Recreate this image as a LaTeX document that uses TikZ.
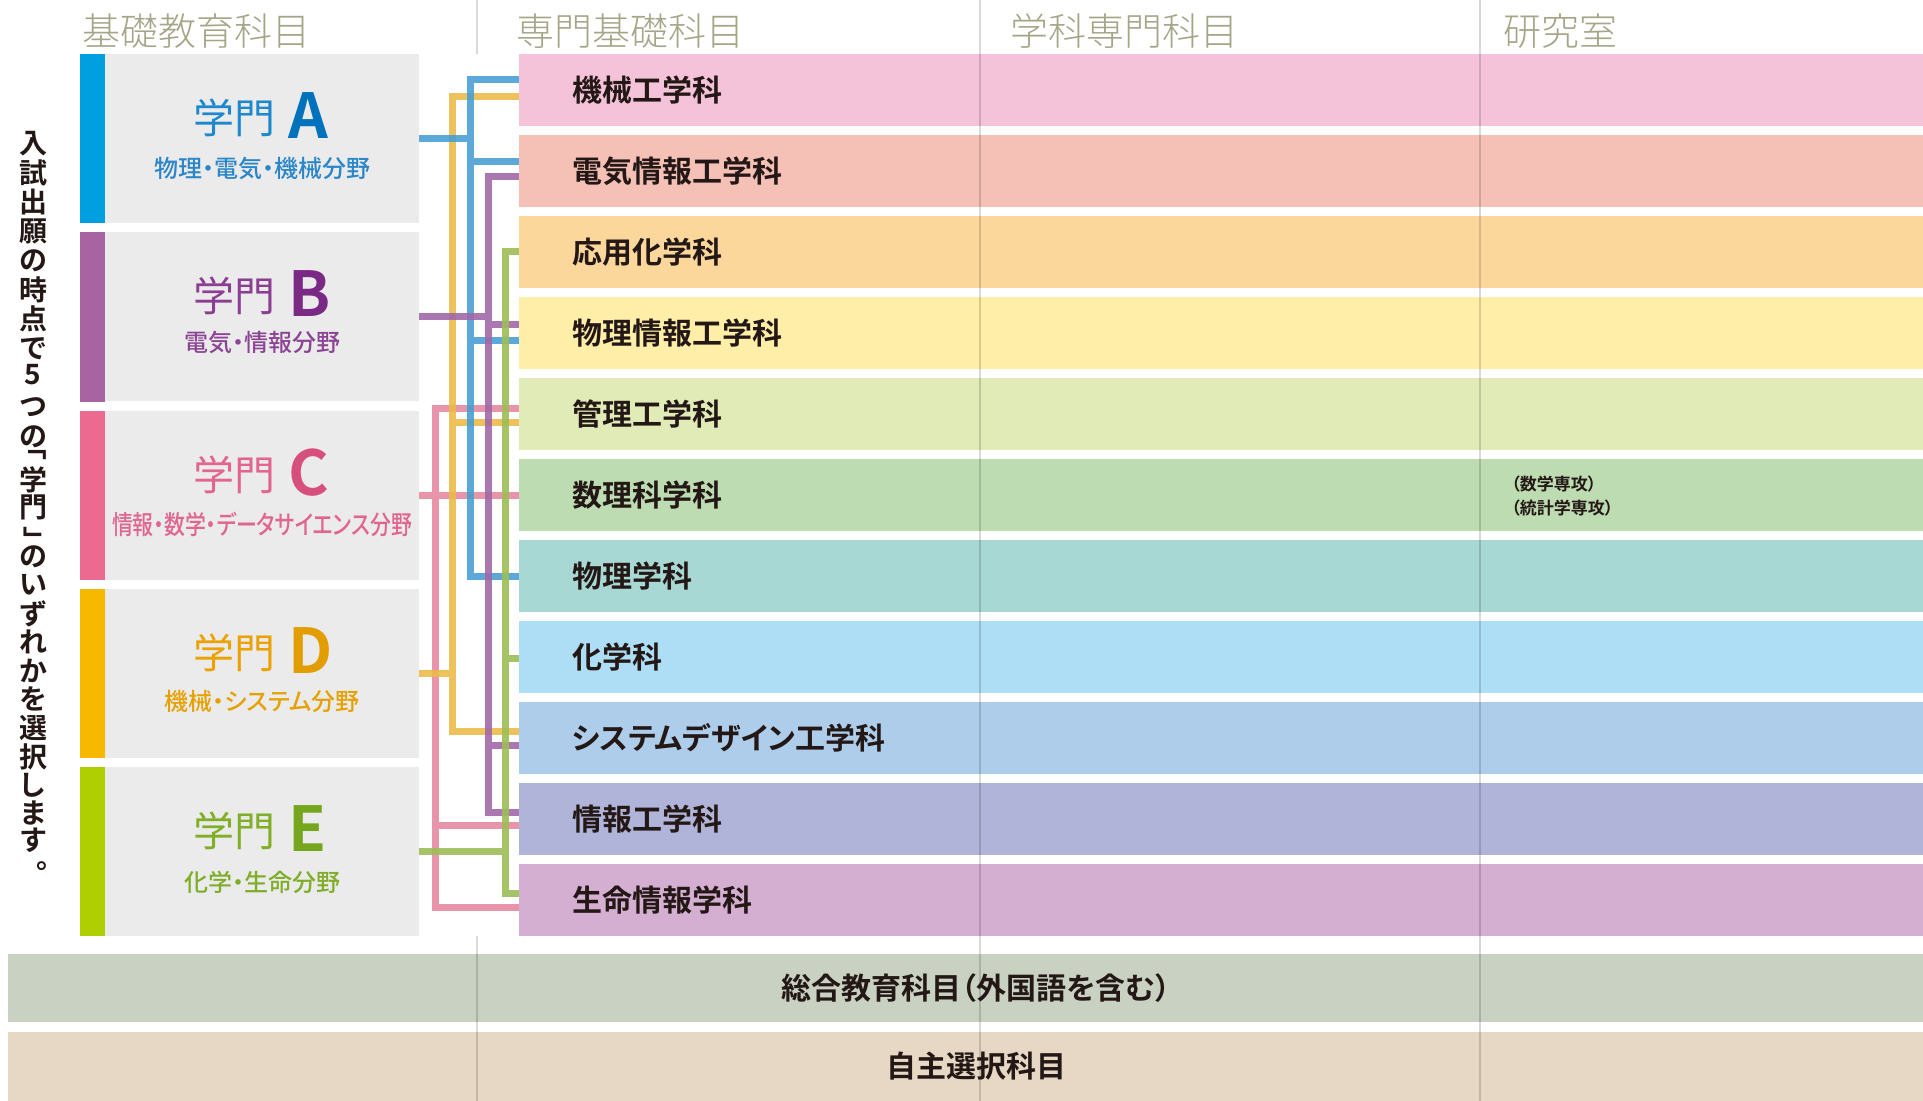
\documentclass[tikz,border=0pt]{standalone}
\usepackage{fontspec}
\setmainfont{Noto Sans CJK JP}[BoldFont={Noto Sans CJK JP Bold},RawFeature=+palt]
\newfontfamily\jplight{Noto Sans CJK JP Light}[RawFeature=+palt]
\newfontfamily\jpmed{Noto Sans CJK JP Medium}[RawFeature=+palt]
\definecolor{ink}{HTML}{231815}
\definecolor{headc}{HTML}{A5A588}
\definecolor{gboxc}{HTML}{EBEBEB}
% gakumon colours
\definecolor{sA}{HTML}{00A0E0}\definecolor{tA}{HTML}{1E88CF}\definecolor{lA}{HTML}{0072BC}\definecolor{uA}{HTML}{2A86C8}
\definecolor{sB}{HTML}{A864A2}\definecolor{tB}{HTML}{8B3E92}\definecolor{lB}{HTML}{7A2A84}\definecolor{uB}{HTML}{8C4494}
\definecolor{sC}{HTML}{EC6A90}\definecolor{tC}{HTML}{E26590}\definecolor{lC}{HTML}{D7507D}\definecolor{uC}{HTML}{E0658F}
\definecolor{sD}{HTML}{F7B800}\definecolor{tD}{HTML}{EBA100}\definecolor{lD}{HTML}{E29E00}\definecolor{uD}{HTML}{E6A100}
\definecolor{sE}{HTML}{AFCF00}\definecolor{tE}{HTML}{80AF27}\definecolor{lE}{HTML}{76A61E}\definecolor{uE}{HTML}{7FAD28}
% bar colours
\definecolor{c1}{HTML}{F4C3D9}\definecolor{c2}{HTML}{F5C0B5}\definecolor{c3}{HTML}{FBD79C}
\definecolor{c4}{HTML}{FEEEA8}\definecolor{c5}{HTML}{E0EBB8}\definecolor{c6}{HTML}{BDDCB2}
\definecolor{c7}{HTML}{A8D8D3}\definecolor{c8}{HTML}{ADDEF5}\definecolor{c9}{HTML}{ADCDEB}
\definecolor{c10}{HTML}{AFB4D8}\definecolor{c11}{HTML}{D4AFD1}\definecolor{c12}{HTML}{C9D1C2}
\definecolor{c13}{HTML}{E6D8C5}
% connector colours
\definecolor{kA}{HTML}{4A9FD4}\definecolor{kB}{HTML}{A168A8}\definecolor{kC}{HTML}{E688A2}
\definecolor{kD}{HTML}{EBBA4A}\definecolor{kE}{HTML}{9DBD56}
\newcommand\gtitle[3]{\textcolor{#1}{\fontsize{20.5}{24}\selectfont\raisebox{2.5pt}{学門}}\hspace{6.5pt}\textcolor{#2}{\bfseries\fontsize{31}{36}\selectfont #3}}
\begin{document}
\begin{tikzpicture}[x=0.5pt,y=-0.5pt,
  gbox/.style={fill=gboxc, minimum width=169.5pt, minimum height=84.5pt, inner sep=0},
  bar/.style={minimum width=702pt, minimum height=36pt, inner sep=0},
  blabel/.style={anchor=west, inner sep=0, font=\bfseries\fontsize{15}{18}\selectfont, text=ink},
  head/.style={anchor=west, inner sep=0, font=\jplight\fontsize{19}{22}\selectfont, text=headc},
  gtit/.style={anchor=base west, inner sep=0},
  gsub/.style={inner sep=0, font=\jpmed\fontsize{12}{14}\selectfont},
  vch/.style={inner sep=0, font=\bfseries\fontsize{14}{16}\selectfont, text=ink},
  ln/.style={line width=3.5pt, opacity=0.9},
  sepl/.style={draw=black, opacity=0.15, line width=1pt}]
\useasboundingbox (0,0) rectangle (1923,1101);

% headers
\node[head] (h1) at (82,31.5) {基礎教育科目};
\node[head] (h2) at (516,31.5) {専門基礎科目};
\node[head] (h3) at (1010,31.5) {学科専門科目};
\node[head] (h4) at (1503,31.5) {研究室};

% gakumon boxes
\node[gbox] (gA) at (249.5,138.5) {};
\node[gbox] (gB) at (249.5,317) {};
\node[gbox] (gC) at (249.5,495.5) {};
\node[gbox] (gD) at (249.5,673.5) {};
\node[gbox] (gE) at (249.5,851.5) {};
\fill[sA] (gA.north west) rectangle ([xshift=12.5pt]gA.south west);
\fill[sB] (gB.north west) rectangle ([xshift=12.5pt]gB.south west);
\fill[sC] (gC.north west) rectangle ([xshift=12.5pt]gC.south west);
\fill[sD] (gD.north west) rectangle ([xshift=12.5pt]gD.south west);
\fill[sE] (gE.north west) rectangle ([xshift=12.5pt]gE.south west);
\node[gtit] (tA) at (193,139) {\gtitle{tA}{lA}{A}};
\node[gtit] (tB) at (193,317) {\gtitle{tB}{lB}{B}};
\node[gtit] (tC) at (193,496) {\gtitle{tC}{lC}{C}};
\node[gtit] (tD) at (193,673.5) {\gtitle{tD}{lD}{D}};
\node[gtit] (tE) at (193,851.5) {\gtitle{tE}{lE}{E}};
\node[gsub, text=uA] (uA) at (262,168.5) {物理・電気・機械分野};
\node[gsub, text=uB] (uB) at (262,342) {電気・情報分野};
\node[gsub, text=uC] (uC) at (262,524) {\resizebox{150pt}{11.2pt}{情報・数学・データサイエンス分野}};
\node[gsub, text=uD] (uD) at (262,701) {機械・システム分野};
\node[gsub, text=uE] (uE) at (262,882) {化学・生命分野};

% department bars
\node[bar, fill=c1] (b1) at (1221,90) {};
\node[bar, fill=c2] (b2) at (1221,171) {};
\node[bar, fill=c3] (b3) at (1221,252) {};
\node[bar, fill=c4] (b4) at (1221,333) {};
\node[bar, fill=c5] (b5) at (1221,414) {};
\node[bar, fill=c6] (b6) at (1221,495) {};
\node[bar, fill=c7] (b7) at (1221,576) {};
\node[bar, fill=c8] (b8) at (1221,657) {};
\node[bar, fill=c9] (b9) at (1221,738) {};
\node[bar, fill=c10] (b10) at (1221,819) {};
\node[bar, fill=c11] (b11) at (1221,900) {};
\node[fill=c12, minimum width=957.5pt, minimum height=34pt, inner sep=0] (b12) at (965.5,988) {};
\node[fill=c13, minimum width=957.5pt, minimum height=34.5pt, inner sep=0] (b13) at (965.5,1066.5) {};

% column separators
\draw[sepl] (477,0) -- (477,54);
\draw[sepl] (477,936) -- (477,1101);
\draw[sepl] (980,0) -- (980,1101);
\draw[sepl] (1480,0) -- (1480,1101);

% labels
\node[blabel] (l1) at (572,90) {機械工学科};
\node[blabel] (l2) at (572,171) {電気情報工学科};
\node[blabel] (l3) at (572,252) {応用化学科};
\node[blabel] (l4) at (572,333) {物理情報工学科};
\node[blabel] (l5) at (572,414) {管理工学科};
\node[blabel] (l6) at (572,495) {数理科学科};
\node[blabel] (l7) at (572,576) {物理学科};
\node[blabel] (l8) at (572,657) {化学科};
\node[blabel] (l9) at (572,738) {システムデザイン工学科};
\node[blabel] (l10) at (572,819) {情報工学科};
\node[blabel] (l11) at (572,900) {生命情報学科};
\node[anchor=west, inner sep=0, align=left, font=\bfseries\fontsize{8.5}{12.25}\selectfont, text=ink] (l6s) at (1511,496) {（数学専攻）\\（統計学専攻）};
\node[inner sep=0, font=\bfseries\fontsize{15}{18}\selectfont, text=ink] (l12) at (976,988) {総合教育科目（外国語を含む）};
\node[inner sep=0, font=\bfseries\fontsize{15}{18}\selectfont, text=ink] (l13) at (976,1066) {自主選択科目};

% vertical caption, one character per cell
\foreach \ch/\yy [count=\i] in {入/143.5,試/172.8,出/202.1,願/231.4,の/260.7,時/290,点/319.3,で/348.6,5/375,つ/407.2,の/436.5,
  学/479.5,門/507.5,の/556.5,い/585,ず/613.6,れ/642.2,か/670.7,を/699.3,選/727.8,択/756.4,し/785,ま/813.5,す/840.5}
  \node[vch, name=v\i] at (33,\yy) {\ch};
\node[vch] (vq1) at (34,456) {\rotatebox[origin=c]{-90}{「}};
\node[vch] (vq2) at (33,533.5) {\rotatebox[origin=c]{-90}{」}};
\node[vch] (vdot) at (43.5,866) {。};

% connector x positions and y levels
\coordinate (xP) at (435.5,0);
\coordinate (xY) at (452.5,0);
\coordinate (xB) at (470,0);
\coordinate (xU) at (488,0);
\coordinate (xG) at (505,0);
\coordinate (yB1) at (0,80);  \coordinate (yB2) at (0,162);
\coordinate (yB3) at (0,341); \coordinate (yB4) at (0,576.5);
\coordinate (yY1) at (0,97);  \coordinate (yY2) at (0,422.5); \coordinate (yY3) at (0,731);
\coordinate (yU1) at (0,177); \coordinate (yU2) at (0,324.5);
\coordinate (yU3) at (0,745.5); \coordinate (yU4) at (0,812);
\coordinate (yG1) at (0,251.5); \coordinate (yG2) at (0,658.5); \coordinate (yG3) at (0,893.5);
\coordinate (yP1) at (0,408.5); \coordinate (yP2) at (0,825); \coordinate (yP3) at (0,907);

% connectors
\draw[ln, kC] (gC.east) -- (b6.west |- gC.east)
  (b5.west |- yP1) -| (xP |- yP3) -- (b11.west |- yP3)
  (xP |- yP2) -- (b10.west |- yP2);
\draw[ln, kD] (gD.east) -- (xY |- gD.east)
  (b1.west |- yY1) -| (xY |- yY3) -- (b9.west |- yY3)
  (xY |- yY2) -- (b5.west |- yY2);
\draw[ln, kA] (gA.east) -- (xB |- gA.east)
  (b1.west |- yB1) -| (xB |- yB4) -- (b7.west |- yB4)
  (xB |- yB2) -- (b2.west |- yB2)
  (xB |- yB3) -- (b4.west |- yB3);
\draw[ln, kB] (gB.east) -- (xU |- gB.east)
  (b2.west |- yU1) -| (xU |- yU4) -- (b10.west |- yU4)
  (xU |- yU2) -- (b4.west |- yU2)
  (xU |- yU3) -- (b9.west |- yU3);
\draw[ln, kE] (gE.east) -- (xG |- gE.east)
  (b3.west |- yG1) -| (xG |- yG3) -- (b11.west |- yG3)
  (xG |- yG2) -- (b8.west |- yG2);
\end{tikzpicture}
\end{document}
